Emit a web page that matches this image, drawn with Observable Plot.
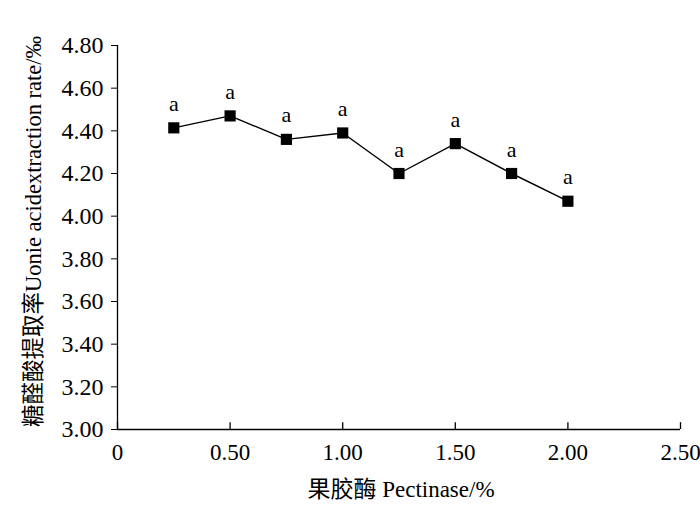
<!DOCTYPE html>
<html><head><meta charset="utf-8">
<script src="https://cdn.jsdelivr.net/npm/d3@7"></script>
<script src="https://cdn.jsdelivr.net/npm/@observablehq/plot@0.6"></script>
<style>body{margin:0;background:#fff}</style>
</head><body><div id="chart"></div>
<script>
const pectinase = [0.25, 0.5, 0.75, 1.0, 1.25, 1.5, 1.75, 2.0];
const uronicRate = [4.414, 4.47, 4.36, 4.39, 4.20, 4.34, 4.20, 4.07];
const sigLabels = ["a", "a", "a", "a", "a", "a", "a", "a"];
const xTicks = [0, 0.5, 1.0, 1.5, 2.0, 2.5];
const yTicks = [3.0, 3.2, 3.4, 3.6, 3.8, 4.0, 4.2, 4.4, 4.6, 4.8];
const xLabel = "果胶酶 Pectinase/%";
const yLabel = "糖醛酸提取率Uonie acidextraction rate/‰";

const data = pectinase.map((x, i) => ({x, y: uronicRate[i], label: sigLabels[i]}));
const font = "'Liberation Serif', 'Noto Sans CJK SC', serif";

const chart = Plot.plot({
  width: 700, height: 510,
  marginLeft: 117, marginRight: 20, marginTop: 45, marginBottom: 81,
  style: {fontFamily: font, fontSize: "22px", color: "#000", background: "#fff", overflow: "visible"},
  x: {domain: [0, 2.5]},
  y: {domain: [3.0, 4.8]},
  marks: [
    Plot.axisY({ticks: yTicks, tickFormat: d => d.toFixed(2), tickSize: 6, tickPadding: 8, fontSize: 24, label: null}),
    Plot.axisX({ticks: xTicks, tickFormat: d => d === 0 ? "0" : d.toFixed(2), tickSize: 0, tickPadding: 14, fontSize: 23, label: null}),
    Plot.ruleX(xTicks, {x: d => d, y1: 3.0, y2: 3.032, stroke: "#000", strokeWidth: 1.3}),
    Plot.ruleX([0], {stroke: "#000", strokeWidth: 1.3}),
    Plot.ruleY([3.0], {stroke: "#000", strokeWidth: 1.3}),
    Plot.line(data, {x: "x", y: "y", stroke: "#000", strokeWidth: 1.4}),
    Plot.dot(data, {x: "x", y: "y", symbol: "square", r: 6.3, fill: "#000", stroke: "none"}),
    Plot.text(data, {x: "x", y: "y", text: "label", dy: -24, fontSize: 22, fill: "#000"}),
    Plot.text([xLabel], {frameAnchor: "bottom", dy: 67, dx: 2, fontSize: 23, fill: "#000"}),
    Plot.text([yLabel], {frameAnchor: "left", textAnchor: "middle", rotate: -90, dx: -84, dy: -6, fontSize: 22.5, fill: "#000"})
  ]
});
document.getElementById("chart").appendChild(chart);
</script>
</body></html>
